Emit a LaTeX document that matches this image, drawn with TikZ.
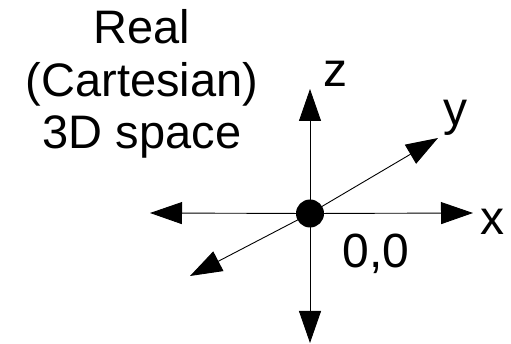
\documentclass[tikz,border=0pt]{standalone}
\usepackage{fontspec}
\setmainfont{Liberation Sans}
\usetikzlibrary{arrows.meta, positioning}

\begin{document}
\begin{tikzpicture}[
		x=1pt, y=-1pt,
		axis/.style={-{Triangle[length=32pt, width=22pt]}, line width=0.9pt},
		label/.style={inner sep=0pt, anchor=base, font=\fontsize{48}{52}\selectfont},
		origin/.style={circle, fill, inner sep=0pt, minimum size=28pt}
		]
		
		\useasboundingbox (0,0) rectangle (511,344);
		
		\node[inner sep=0pt, align=center, font=\fontsize{47}{52.5}\selectfont] (title) at (142,84)
		{Real\\(Cartesian)\\3D space};
		
		\node[origin] (o) at (310,213.5) {};
		
		\coordinate (xp) at (473,213);
		\coordinate (xm) at (150,213);
		\coordinate (zp) at (310,89);
		\coordinate (zm) at (310,343);
		\coordinate (yp) at (438,138);
		\coordinate (ym) at (190,276);
		
		\draw[axis] (o.center) -- (xp);
		\draw[axis] (o.center) -- (xm);
		\draw[axis] (o.center) -- (zp);
		\draw[axis] (o.center) -- (zm);
		\draw[axis] (o.center) -- (yp);
		\draw[axis] (o.center) -- (ym);
		
		\node[label] (xlab) at (492,235) {x};
		\node[label] (ylab) at (455,126) {y};
		\node[label] (zlab) at (335,87) {z};
		\node[label] (olab) at (376,268) {0,0};
		
	\end{tikzpicture}
\end{document}
